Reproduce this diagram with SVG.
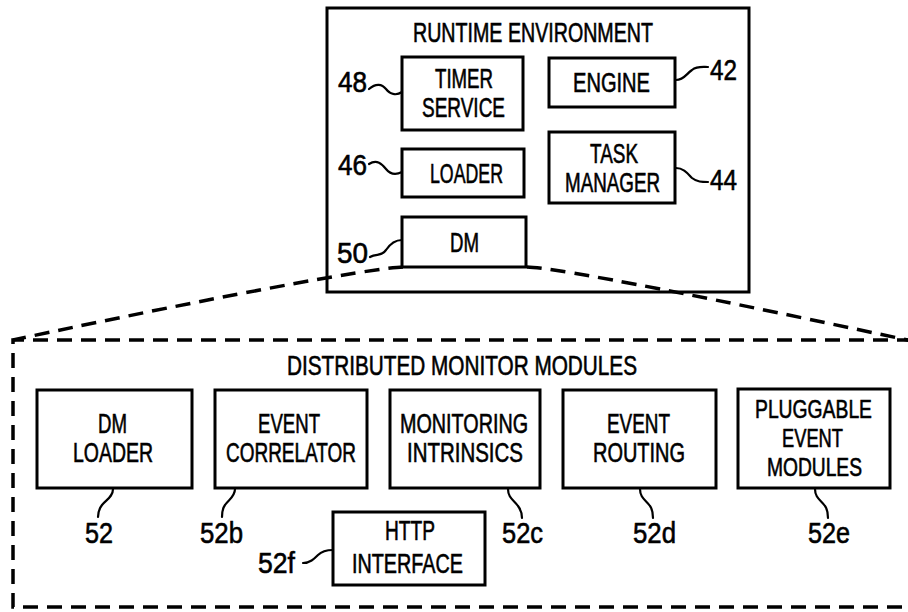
<svg xmlns="http://www.w3.org/2000/svg" width="908" height="612" viewBox="0 0 908 612">
<style>
.box{fill:#fff;stroke:#000;stroke-width:3}
.frame{fill:none;stroke:#000;stroke-width:3}
.dash{fill:none;stroke:#000;stroke-width:3.5;stroke-dasharray:15 9}
.lead{fill:none;stroke:#000;stroke-width:2.2;stroke-linecap:round}
text{font-family:"Liberation Sans",Arial,sans-serif;fill:#000;font-size:27px;stroke:#000;stroke-width:0.6}
.num{font-size:29px}
.sm{font-size:25px}
</style>
<rect width="908" height="612" fill="#fff"/>
<g id="runtime">
<rect class="frame" x="327" y="8" width="422" height="284"/>
<text x="413" y="42" textLength="240" lengthAdjust="spacingAndGlyphs">RUNTIME ENVIRONMENT</text>
</g>
<g id="timer">
<rect class="box" x="402" y="57" width="121" height="73"/>
<text x="435" y="88" textLength="58" lengthAdjust="spacingAndGlyphs">TIMER</text>
<text x="422" y="117" textLength="83" lengthAdjust="spacingAndGlyphs">SERVICE</text>
</g>
<g id="engine">
<rect class="box" x="549" y="58" width="126" height="49"/>
<text x="573" y="92" textLength="77" lengthAdjust="spacingAndGlyphs">ENGINE</text>
</g>
<g id="taskmanager">
<rect class="box" x="549" y="132" width="126" height="71"/>
<text x="590" y="163" textLength="48" lengthAdjust="spacingAndGlyphs">TASK</text>
<text x="565" y="192" textLength="95" lengthAdjust="spacingAndGlyphs">MANAGER</text>
</g>
<g id="loader">
<rect class="box" x="402" y="149" width="122" height="48"/>
<text x="430" y="183" textLength="73" lengthAdjust="spacingAndGlyphs">LOADER</text>
</g>
<g id="dm">
<rect class="box" x="402" y="217" width="124" height="50"/>
<text x="450" y="252" textLength="29" lengthAdjust="spacingAndGlyphs">DM</text>
</g>
<g id="distributed">
<path class="dash" d="M912,340 H13 V607 H912"/>
<text x="287" y="375" textLength="350" lengthAdjust="spacingAndGlyphs">DISTRIBUTED MONITOR MODULES</text>
</g>
<g id="dmloader">
<rect class="box" x="37" y="390" width="155" height="98"/>
<text x="98" y="433" textLength="29" lengthAdjust="spacingAndGlyphs">DM</text>
<text x="73" y="462" textLength="80" lengthAdjust="spacingAndGlyphs">LOADER</text>
</g>
<g id="correlator">
<rect class="box" x="215" y="390" width="152" height="98"/>
<text x="258" y="433" textLength="62" lengthAdjust="spacingAndGlyphs">EVENT</text>
<text x="226" y="462" textLength="130" lengthAdjust="spacingAndGlyphs">CORRELATOR</text>
</g>
<g id="intrinsics">
<rect class="box" x="390" y="390" width="150" height="98"/>
<text x="400" y="433" textLength="128" lengthAdjust="spacingAndGlyphs">MONITORING</text>
<text x="407" y="462" textLength="116" lengthAdjust="spacingAndGlyphs">INTRINSICS</text>
</g>
<g id="routing">
<rect class="box" x="563" y="390" width="153" height="98"/>
<text x="607" y="433" textLength="63" lengthAdjust="spacingAndGlyphs">EVENT</text>
<text x="593" y="462" textLength="92" lengthAdjust="spacingAndGlyphs">ROUTING</text>
</g>
<g id="pluggable">
<rect class="box" x="738" y="389" width="152" height="99"/>
<text class="sm" x="755" y="418" textLength="117" lengthAdjust="spacingAndGlyphs">PLUGGABLE</text>
<text class="sm" x="782" y="447" textLength="61" lengthAdjust="spacingAndGlyphs">EVENT</text>
<text class="sm" x="767" y="476" textLength="95" lengthAdjust="spacingAndGlyphs">MODULES</text>
</g>
<g id="http">
<rect class="box" x="333" y="512" width="152" height="73"/>
<text x="385" y="540" textLength="50" lengthAdjust="spacingAndGlyphs">HTTP</text>
<text x="352" y="573" textLength="111" lengthAdjust="spacingAndGlyphs">INTERFACE</text>
</g>
<g id="connectors">
<path class="dash" d="M403,267 C370,268 200,300 13,340"/>
<path class="dash" d="M527,267 C560,268 720,300 912,341"/>
<path class="lead" d="M369,89 C376,83 382,84 386,89 C390,94 396,96 402,92"/>
<path class="lead" d="M369,164 C377,159 382,164 386,169 C390,174 396,175 402,172"/>
<path class="lead" d="M370,257 C377,253 381,257 386,250 C390,244 396,240 402,240"/>
<path class="lead" d="M676,80 C684,80 686,74 692,70 C697,66 702,67 708,67"/>
<path class="lead" d="M676,168 C684,168 688,174 692,178 C697,182 702,182 708,182"/>
<path class="lead" d="M113,489 C113,497 106,500 102,505 C99,509 98,513 98,517"/>
<path class="lead" d="M235,489 C235,497 228,500 225,505 C222,509 222,513 222,517"/>
<path class="lead" d="M508,489 C508,498 514,500 518,506 C521,510 522,514 522,518"/>
<path class="lead" d="M640,489 C640,498 646,500 650,506 C653,510 653,514 653,518"/>
<path class="lead" d="M815,489 C815,498 821,500 825,506 C828,510 828,514 828,518"/>
<path class="lead" d="M303,563 C310,563 314,559 318,555 C322,551 327,550 333,550"/>
</g>
<g id="labels">
<text class="num" x="338" y="92" textLength="29" lengthAdjust="spacingAndGlyphs">48</text>
<text class="num" x="338" y="175" textLength="29" lengthAdjust="spacingAndGlyphs">46</text>
<text class="num" x="337" y="263" textLength="31" lengthAdjust="spacingAndGlyphs">50</text>
<text class="num" x="710" y="80" textLength="27" lengthAdjust="spacingAndGlyphs">42</text>
<text class="num" x="710" y="190" textLength="27" lengthAdjust="spacingAndGlyphs">44</text>
<text class="num" x="85" y="543" textLength="28" lengthAdjust="spacingAndGlyphs">52</text>
<text class="num" x="200" y="543" textLength="43" lengthAdjust="spacingAndGlyphs">52b</text>
<text class="num" x="502" y="543" textLength="41" lengthAdjust="spacingAndGlyphs">52c</text>
<text class="num" x="633" y="543" textLength="43" lengthAdjust="spacingAndGlyphs">52d</text>
<text class="num" x="808" y="543" textLength="42" lengthAdjust="spacingAndGlyphs">52e</text>
<text class="num" x="258" y="573" textLength="37" lengthAdjust="spacingAndGlyphs">52f</text>
</g>
</svg>
